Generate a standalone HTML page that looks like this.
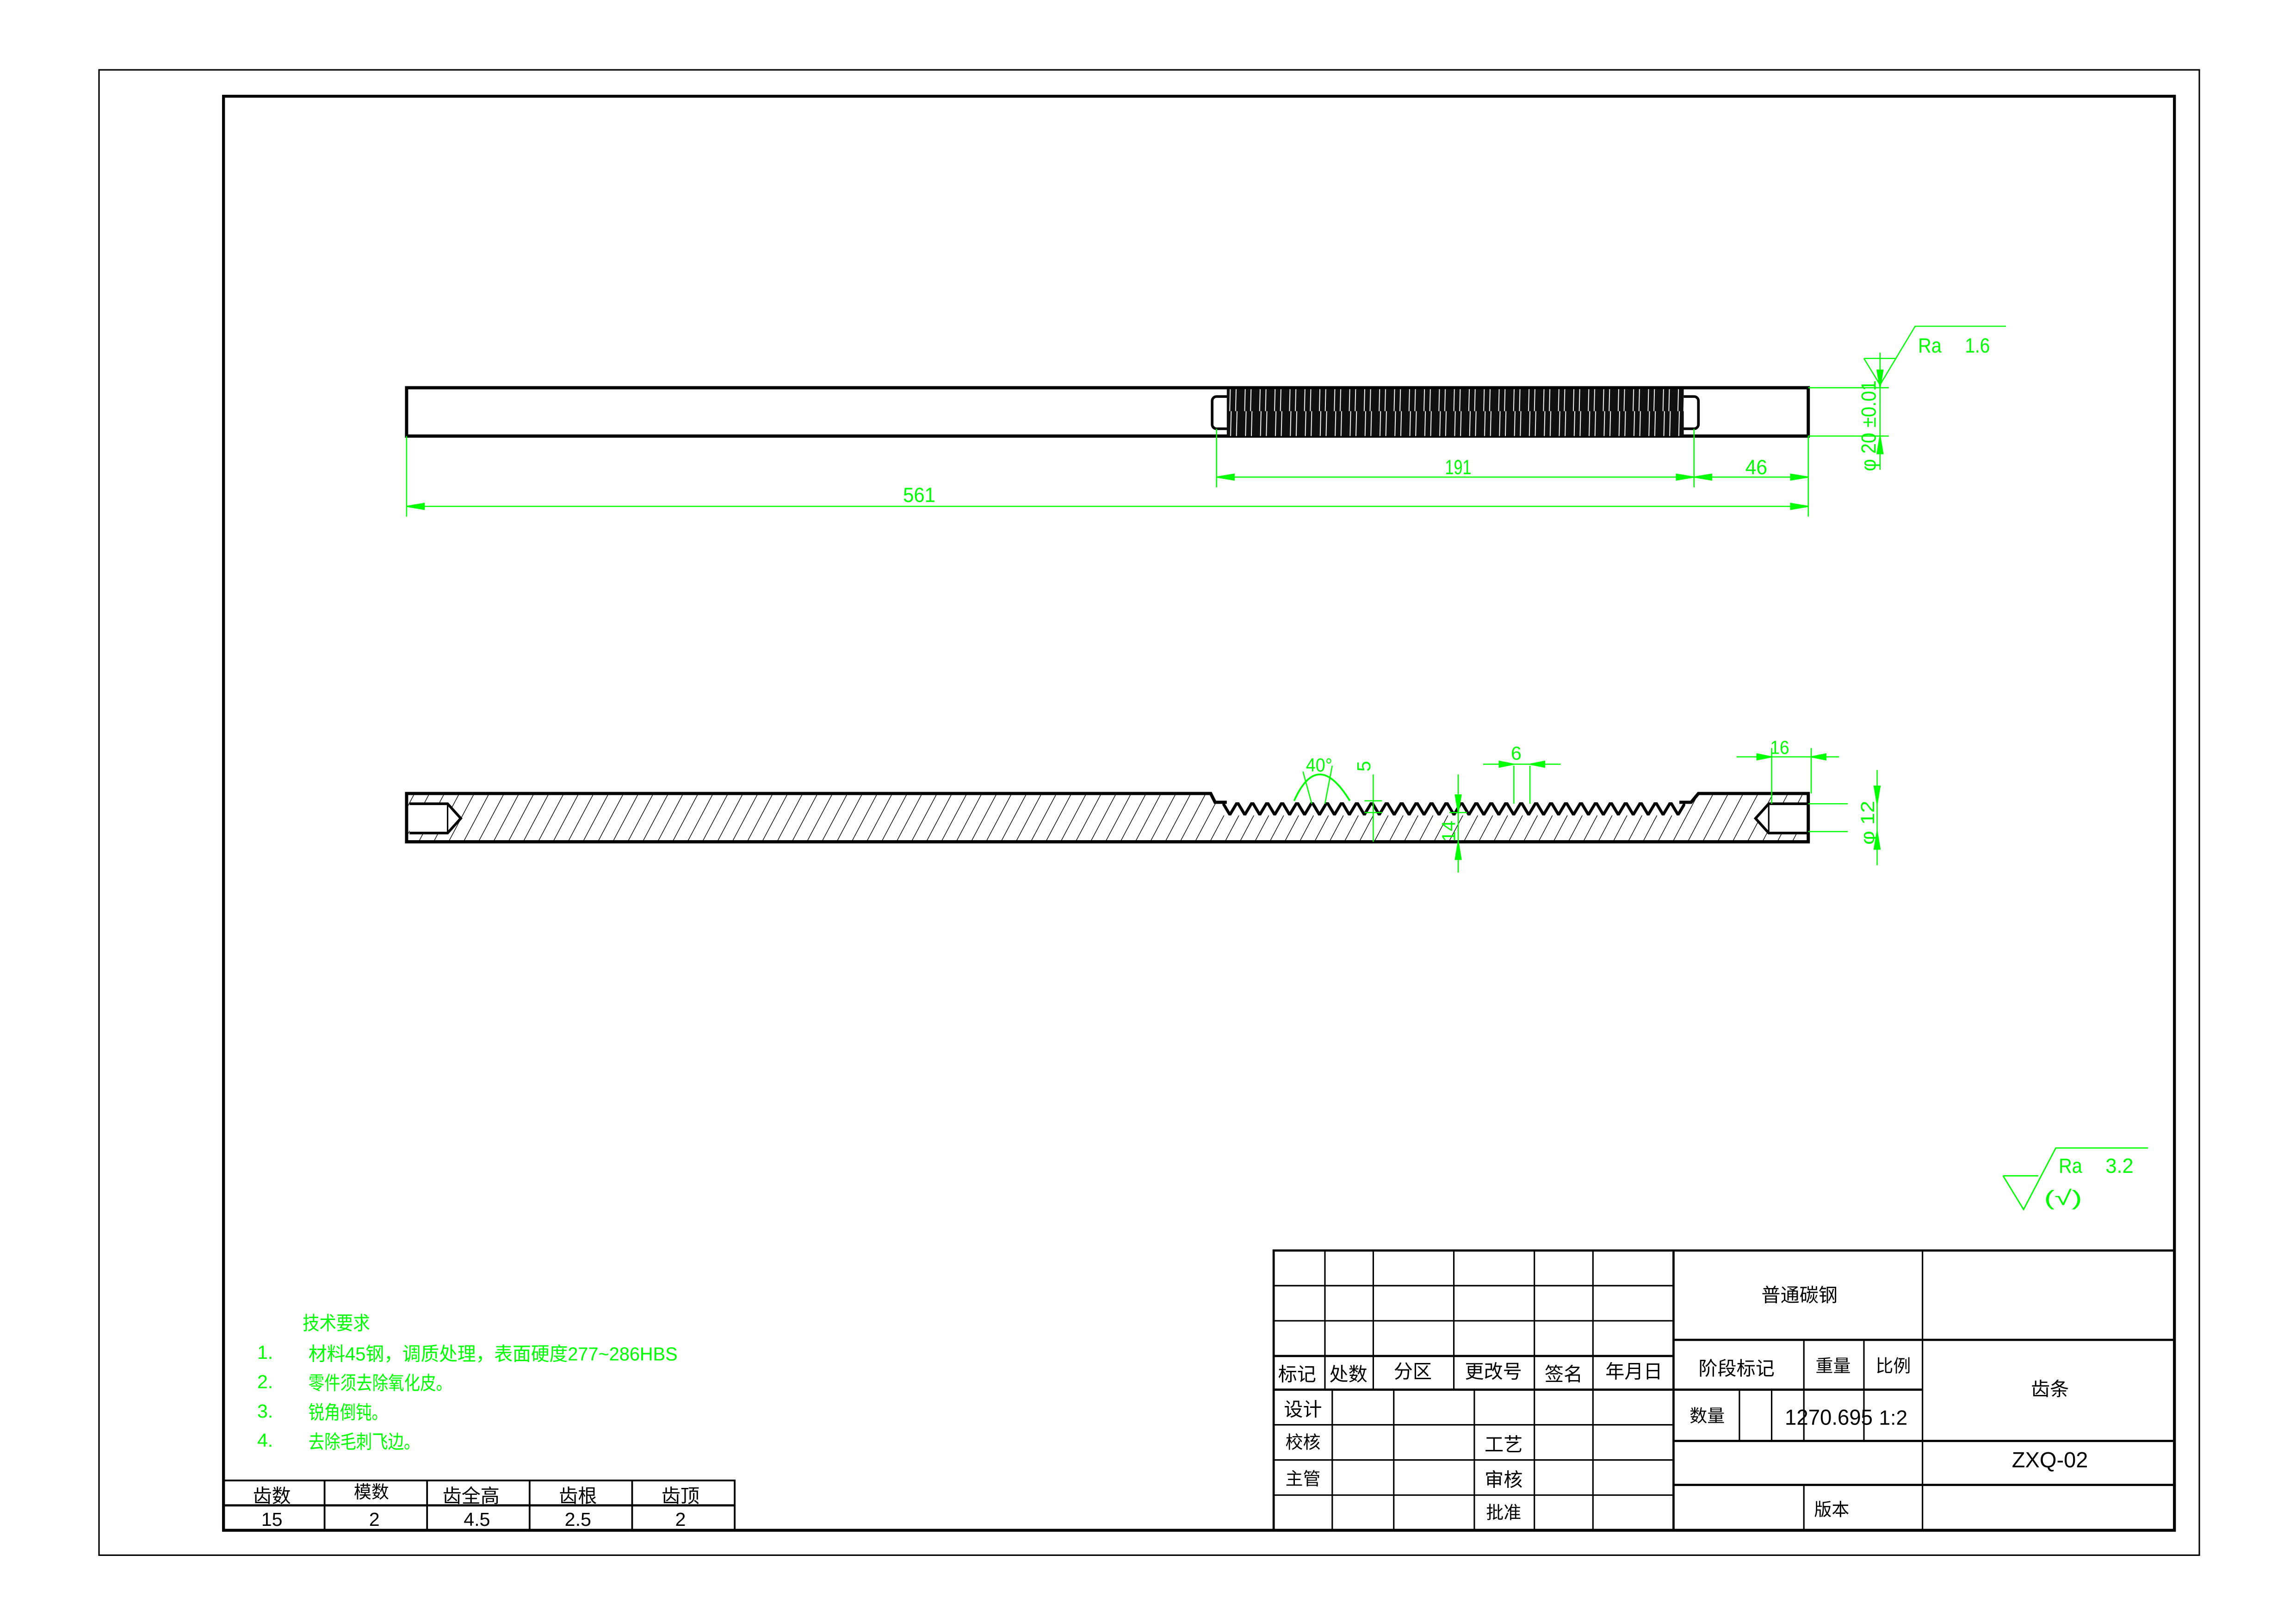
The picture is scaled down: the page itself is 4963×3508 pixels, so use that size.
<!DOCTYPE html>
<html><head><meta charset="utf-8"><style>
html,body{margin:0;padding:0;background:#fff;}
svg{display:block;}
text{font-family:"Liberation Sans","Noto Sans CJK SC",sans-serif;}
</style></head><body>
<svg width="4963" height="3508" viewBox="0.4 -0.7 1567.6 1108" preserveAspectRatio="none" xmlns="http://www.w3.org/2000/svg">
<defs>
<pattern id="hatch" width="9" height="9" patternUnits="userSpaceOnUse" patternTransform="rotate(28)">
<line x1="0" y1="0" x2="0" y2="9" stroke="#000" stroke-width="0.9"/>
</pattern>
<pattern id="teeth" x="835" y="547" width="10.2" height="20" patternUnits="userSpaceOnUse">
<path d="M0,0 L5.1,8.5 L10.2,0" fill="none" stroke="#000" stroke-width="2"/>
</pattern>
<pattern id="thr" x="838" y="0" width="10.2" height="40" patternUnits="userSpaceOnUse">
<rect width="10.2" height="40" fill="#111"/>
<line x1="3" y1="0" x2="2" y2="40" stroke="#fff" stroke-width="0.6"/>
<line x1="7" y1="0" x2="6" y2="40" stroke="#fff" stroke-width="0.6"/>
</pattern>
<clipPath id="bodyclip"><path d="M278,541 L827,541 L830,547 L1155,547 L1160,541 L1235,541 L1235,574 L278,574 Z"/></clipPath>
</defs>
<rect x="0" y="-1" width="1570" height="1110" fill="#fff"/>
<rect x="68" y="47" width="1434" height="1014" fill="none" stroke="#000" stroke-width="1"/>
<rect x="153" y="65" width="1332" height="979" fill="none" stroke="#000" stroke-width="2"/>

<!-- top view -->
<rect x="278" y="264" width="957" height="33" fill="none" stroke="#000" stroke-width="2.2"/>
<rect x="828" y="270" width="332" height="22" rx="3" fill="none" stroke="#000" stroke-width="1.8"/>
<rect x="838" y="265" width="312" height="32" fill="url(#thr)"/>
<g stroke="#0f0" stroke-width="0.8" fill="#0f0">
<line x1="278" y1="297" x2="278" y2="352"/>
<line x1="1235" y1="297" x2="1235" y2="352"/>
<line x1="831" y1="292" x2="831" y2="332"/>
<line x1="1157" y1="292" x2="1157" y2="332"/>
<line x1="278" y1="345" x2="1235" y2="345"/>
<line x1="831" y1="325" x2="1235" y2="325"/>
<path d="M278,345 l12,-2 v4z M1235,345 l-12,-2 v4z M831,325 l12,-2 v4z M1157,325 l-12,-2 v4z M1157,325 l12,-2 v4z M1235,325 l-12,-2 v4z"/>
<line x1="1235" y1="264" x2="1290" y2="264"/>
<line x1="1235" y1="297" x2="1290" y2="297"/>
<line x1="1284" y1="240" x2="1284" y2="320"/>
<path d="M1284,264 l-2,-12 h4z M1284,297 l-2,12 h4z"/>
<polyline points="1273,244 1284,262 1308,222 1370,222" fill="none"/>
<line x1="1273" y1="244" x2="1295" y2="244"/>
</g>
<g fill="#0f0" font-size="14">
<text x="617" y="342" textLength="22" lengthAdjust="spacingAndGlyphs">561</text>
<text x="987" y="323" textLength="18" lengthAdjust="spacingAndGlyphs">191</text>
<text x="1192" y="323" textLength="15" lengthAdjust="spacingAndGlyphs">46</text>
<text x="1310" y="240" textLength="16" lengthAdjust="spacingAndGlyphs">Ra</text>
<text x="1342" y="240" textLength="17" lengthAdjust="spacingAndGlyphs">1.6</text>
<text transform="translate(1281,321) rotate(-90)" textLength="62" lengthAdjust="spacingAndGlyphs">φ 20 ±0.01</text>
</g>

<!-- section view -->
<rect x="278" y="541" width="957" height="33" fill="url(#hatch)" clip-path="url(#bodyclip)"/>
<rect x="280" y="548" width="26" height="20" fill="#fff"/>
<polygon points="306,548 315,558 306,568" fill="#fff"/>
<rect x="1208" y="548" width="26" height="20" fill="#fff"/>
<polygon points="1208,548 1199,558 1208,568" fill="#fff"/>
<rect x="835" y="547" width="316" height="9" fill="#fff"/>
<rect x="835" y="547" width="316" height="9" fill="url(#teeth)"/>
<path d="M838,547 L830,547 L827,541 L278,541 L278,574 L1235,574 L1235,541 L1160,541 L1155,547 L1147,547" fill="none" stroke="#000" stroke-width="2.2"/>
<path d="M280,548 L306,548 L315,558 L306,568 L280,568" fill="none" stroke="#000" stroke-width="1.8"/>
<line x1="306" y1="548" x2="306" y2="568" stroke="#000" stroke-width="1"/>
<path d="M1234,548 L1208,548 L1199,558 L1208,568 L1234,568" fill="none" stroke="#000" stroke-width="1.8"/>
<line x1="1208" y1="548" x2="1208" y2="568" stroke="#000" stroke-width="1"/>
<g stroke="#0f0" stroke-width="0.8" fill="#0f0">
<path d="M884,546 Q900,510 922,546" fill="none" stroke-width="1.2"/>
<line x1="890" y1="526" x2="896" y2="548"/>
<line x1="910" y1="522" x2="905" y2="548"/>
<line x1="938" y1="528" x2="938" y2="574"/>
<line x1="932" y1="546" x2="944" y2="546"/>
<line x1="932" y1="554" x2="944" y2="554"/>
<line x1="996" y1="528" x2="996" y2="595"/>
<line x1="990" y1="554" x2="1002" y2="554"/>
<path d="M996,554 l-2,-12 h4z M996,574 l-2,12 h4z"/>
<line x1="1034" y1="522" x2="1034" y2="548"/>
<line x1="1045" y1="522" x2="1045" y2="548"/>
<line x1="1013" y1="521" x2="1066" y2="521"/>
<path d="M1034,521 l-10,-2 v4z M1045,521 l10,-2 v4z"/>
<line x1="1210" y1="510" x2="1210" y2="548"/>
<line x1="1237" y1="510" x2="1237" y2="541"/>
<line x1="1186" y1="516" x2="1256" y2="516"/>
<path d="M1210,516 l-10,-2 v4z M1237,516 l10,-2 v4z"/>
<line x1="1235" y1="548" x2="1262" y2="548"/>
<line x1="1235" y1="567" x2="1262" y2="567"/>
<line x1="1282" y1="525" x2="1282" y2="590"/>
<path d="M1282,548 l-2,-12 h4z M1282,567 l-2,12 h4z"/>
</g>
<g fill="#0f0" font-size="13">
<text x="892" y="526" textLength="18" lengthAdjust="spacingAndGlyphs">40°</text>
<text transform="translate(936,526) rotate(-90)">5</text>
<text transform="translate(994,574) rotate(-90)">14</text>
<text x="1032" y="518">6</text>
<text x="1209" y="514" textLength="13" lengthAdjust="spacingAndGlyphs">16</text>
<text transform="translate(1280,576) rotate(-90)" textLength="30" lengthAdjust="spacingAndGlyphs">φ 12</text>
</g>

<!-- Ra 3.2 -->
<g stroke="#0f0" stroke-width="0.9" fill="none">
<polyline points="1368,802 1382,825 1404,783 1467,783"/>
<line x1="1368" y1="802" x2="1392" y2="802"/>
</g>
<g fill="#0f0" font-size="14">
<text x="1406" y="800" textLength="16" lengthAdjust="spacingAndGlyphs">Ra</text>
<text x="1438" y="800" textLength="19" lengthAdjust="spacingAndGlyphs">3.2</text>
<text x="1396" y="822" textLength="26" lengthAdjust="spacingAndGlyphs">(√)</text>
</g>

<!-- tech requirements -->
<g fill="#0f0" font-size="13">
<text x="207" y="907" textLength="46" lengthAdjust="spacingAndGlyphs">技术要求</text>
<text x="176" y="927">1.</text>
<text x="211" y="928" textLength="252" lengthAdjust="spacingAndGlyphs">材料45钢，调质处理，表面硬度277~286HBS</text>
<text x="176" y="947">2.</text>
<text x="211" y="948" textLength="98" lengthAdjust="spacingAndGlyphs">零件须去除氧化皮。</text>
<text x="176" y="967">3.</text>
<text x="211" y="968" textLength="54" lengthAdjust="spacingAndGlyphs">锐角倒钝。</text>
<text x="176" y="987">4.</text>
<text x="211" y="988" textLength="76" lengthAdjust="spacingAndGlyphs">去除毛刺飞边。</text>
</g>

<!-- bottom-left table -->
<g stroke="#000" stroke-width="1.2" fill="none">
<rect x="153" y="1010" width="349" height="34"/>
<line x1="153" y1="1027" x2="502" y2="1027" stroke-width="1.5"/>
<line x1="222" y1="1010" x2="222" y2="1044"/>
<line x1="292" y1="1010" x2="292" y2="1044"/>
<line x1="362" y1="1010" x2="362" y2="1044"/>
<line x1="432" y1="1010" x2="432" y2="1044"/>
</g>
<g fill="#000" font-size="13" text-anchor="middle">
<text x="186" y="1025">齿数</text><text x="186" y="1041">15</text>
<text x="254" y="1022" font-size="12">模数</text><text x="256" y="1041">2</text>
<text x="322" y="1025">齿全高</text><text x="326" y="1041">4.5</text>
<text x="395" y="1025">齿根</text><text x="395" y="1041">2.5</text>
<text x="465" y="1025">齿顶</text><text x="465" y="1041">2</text>
</g>

<!-- title block -->
<g stroke="#000" stroke-width="1" fill="none">
<rect x="870" y="853" width="615" height="191" stroke-width="1.5"/>
<line x1="870" y1="877" x2="1143" y2="877"/>
<line x1="870" y1="901" x2="1143" y2="901"/>
<line x1="870" y1="925" x2="1143" y2="925" stroke-width="1.5"/>
<line x1="870" y1="948" x2="1143" y2="948" stroke-width="1.5"/>
<line x1="870" y1="972" x2="1143" y2="972"/>
<line x1="870" y1="996" x2="1143" y2="996"/>
<line x1="870" y1="1020" x2="1143" y2="1020"/>
<line x1="905" y1="853" x2="905" y2="948"/>
<line x1="938" y1="853" x2="938" y2="948"/>
<line x1="993" y1="853" x2="993" y2="948"/>
<line x1="1048" y1="853" x2="1048" y2="1044"/>
<line x1="1088" y1="853" x2="1088" y2="1044"/>
<line x1="910" y1="948" x2="910" y2="1044"/>
<line x1="952" y1="948" x2="952" y2="1044"/>
<line x1="1007" y1="948" x2="1007" y2="1044"/>
<line x1="1143" y1="853" x2="1143" y2="1044" stroke-width="1.5"/>
<line x1="1313" y1="853" x2="1313" y2="1044"/>
<line x1="1143" y1="914" x2="1485" y2="914" stroke-width="1.5"/>
<line x1="1143" y1="948" x2="1313" y2="948" stroke-width="1.5"/>
<line x1="1143" y1="983" x2="1485" y2="983" stroke-width="1.5"/>
<line x1="1143" y1="1013" x2="1485" y2="1013" stroke-width="1.5"/>
<line x1="1232" y1="914" x2="1232" y2="983"/>
<line x1="1273" y1="914" x2="1273" y2="983"/>
<line x1="1188" y1="948" x2="1188" y2="983"/>
<line x1="1210" y1="948" x2="1210" y2="983"/>
<line x1="1232" y1="1013" x2="1232" y2="1044"/>
</g>
<g fill="#000" font-size="13" text-anchor="middle">
<text x="886" y="942">标记</text>
<text x="921" y="942">处数</text>
<text x="965" y="940">分区</text>
<text x="1020" y="940">更改号</text>
<text x="1068" y="942">签名</text>
<text x="1116" y="940">年月日</text>
<text x="890" y="966">设计</text>
<text x="890" y="988" font-size="12">校核</text>
<text x="890" y="1013" font-size="12">主管</text>
<text x="1027" y="990">工艺</text>
<text x="1027" y="1014">审核</text>
<text x="1027" y="1036" font-size="12">批准</text>
<text x="1229" y="888">普通碳钢</text>
<text x="1186" y="938">阶段标记</text>
<text x="1252" y="936" font-size="12">重量</text>
<text x="1293" y="936" font-size="12">比例</text>
<text x="1166" y="970" font-size="12">数量</text>
<text x="1249" y="972" font-size="15" textLength="60" lengthAdjust="spacingAndGlyphs">1270.695</text>
<text x="1293" y="972" font-size="14">1:2</text>
<text x="1400" y="952">齿条</text>
<text x="1400" y="1001" font-size="15" textLength="52" lengthAdjust="spacingAndGlyphs">ZXQ-02</text>
<text x="1251" y="1034" font-size="12">版本</text>
</g>
</svg>
</body></html>
